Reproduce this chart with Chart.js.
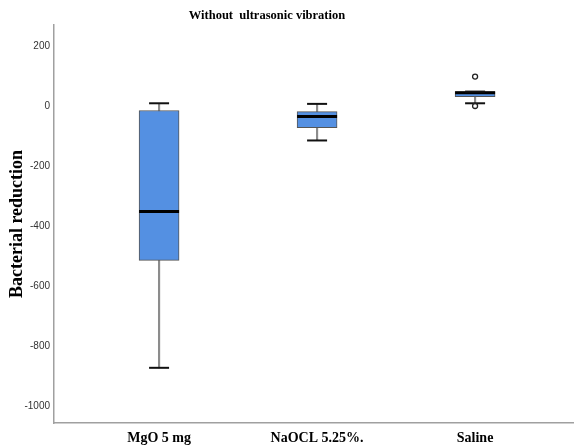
<!DOCTYPE html>
<html>
<head>
<meta charset="utf-8">
<script src="https://cdn.jsdelivr.net/npm/chart.js@4/dist/chart.umd.min.js"></script>
<style>
  html, body { margin: 0; padding: 0; background: #fff; }
  #wrap { width: 574px; height: 448px; }
</style>
</head>
<body>
<div id="wrap"><canvas id="c" width="574" height="448"></canvas></div>
<script>
// Groups and five-number summaries of bacterial reduction
const categories = ['MgO 5 mg', 'NaOCL 5.25%.', 'Saline'];
const whiskerLow  = [-871, -113, 11];
const q1          = [-513, -70, 33];
const median      = [-350, -33, 46];
const q3          = [-13, -17, 50];
const whiskerHigh = [11, 9, 50];
const outliers    = [[], [], [100, 2]];
const yTickValues = [-1000, -800, -600, -400, -200, 0, 200];

const xPos = categories.map((_, i) => i + 1);

const boxData = xPos.map((x, i) => ({ x, y: [q1[i], q3[i]] }));
const whiskerData = xPos.map((x, i) => ({ x, y: [whiskerLow[i], whiskerHigh[i]] }));
const medianData = xPos.map((x, i) => ({ x, y: median[i] }));
const capData = xPos.flatMap((x, i) => [{ x, y: whiskerLow[i] }, { x, y: whiskerHigh[i] }]);
const outlierData = xPos.flatMap((x, i) => outliers[i].map(v => ({ x, y: v })));

const serif = '"Liberation Serif", "Times New Roman", serif';
const narrow = '"Liberation Sans Narrow", "Liberation Sans", Arial, sans-serif';

// Title drawn centred over the boxes
const titlePlugin = {
  id: 'topTitle',
  afterDraw(chart) {
    const ctx = chart.ctx;
    ctx.save();
    ctx.font = 'bold 12.5px ' + serif;
    ctx.fillStyle = '#000';
    ctx.textAlign = 'center';
    ctx.textBaseline = 'middle';
    ctx.fillText('Without  ultrasonic vibration', 267, 16);
    ctx.restore();
  }
};

new Chart(document.getElementById('c'), {
  data: {
    datasets: [
      {
        type: 'bar', label: 'whisker', data: whiskerData, order: 4,
        backgroundColor: '#8c8c8c', borderWidth: 0, barThickness: 1.5, grouped: false
      },
      {
        type: 'bar', label: 'box', data: boxData, order: 3,
        backgroundColor: 'rgb(84,144,226)', borderColor: '#555',
        borderWidth: 1, borderSkipped: false, barThickness: 40, grouped: false
      },
      {
        type: 'line', label: 'median', data: medianData, order: 2, showLine: false,
        pointStyle: 'line', pointRadius: 20, pointHoverRadius: 20,
        borderColor: '#000', pointBorderWidth: 3, pointBorderColor: '#000'
      },
      {
        type: 'line', label: 'cap', data: capData, order: 1, showLine: false,
        pointStyle: 'line', pointRadius: 10, pointHoverRadius: 10,
        borderColor: '#111', pointBorderWidth: 2, pointBorderColor: '#111'
      },
      {
        type: 'line', label: 'outlier', data: outlierData, order: 0, showLine: false,
        pointStyle: 'circle', pointRadius: 2.5, pointBorderWidth: 1.3,
        pointBorderColor: '#222', pointBackgroundColor: '#fff'
      }
    ]
  },
  options: {
    responsive: false,
    animation: false,
    layout: { autoPadding: false, padding: { top: 25, left: 0, right: 0, bottom: 0 } },
    plugins: { legend: { display: false }, tooltip: { enabled: false }, title: { display: false } },
    scales: {
      x: {
        type: 'linear',
        offset: false,
        min: 0.335, max: 3.626,
        grid: { display: false, drawTicks: false, offset: false },
        border: { display: true, color: '#a0a0a0', width: 1.5 },
        afterBuildTicks: s => { s.ticks = xPos.map(v => ({ value: v })); },
        afterFit: s => { s.height = 25; s.paddingLeft = 0; s.paddingRight = 0; },
        ticks: {
          padding: 7,
          color: '#000',
          maxRotation: 0,
          font: { family: serif, size: 14, weight: 'bold' },
          callback: v => categories[v - 1] || ''
        }
      },
      y: {
        type: 'linear',
        min: -1055, max: 272,
        grid: { display: false, drawTicks: false },
        border: { display: true, color: '#a0a0a0', width: 1.5 },
        afterBuildTicks: s => { s.ticks = yTickValues.map(v => ({ value: v })); },
        afterFit: s => { s.width = 54; },
        ticks: {
          padding: 4,
          color: '#333',
          font: { family: narrow, size: 10 },
          callback: v => String(v)
        },
        title: {
          display: true,
          text: 'Bacterial reduction',
          color: '#000',
          padding: { top: 7, bottom: 0 },
          font: { family: serif, size: 18, weight: 'bold' }
        }
      }
    }
  },
  plugins: [titlePlugin]
});
</script>
</body>
</html>
